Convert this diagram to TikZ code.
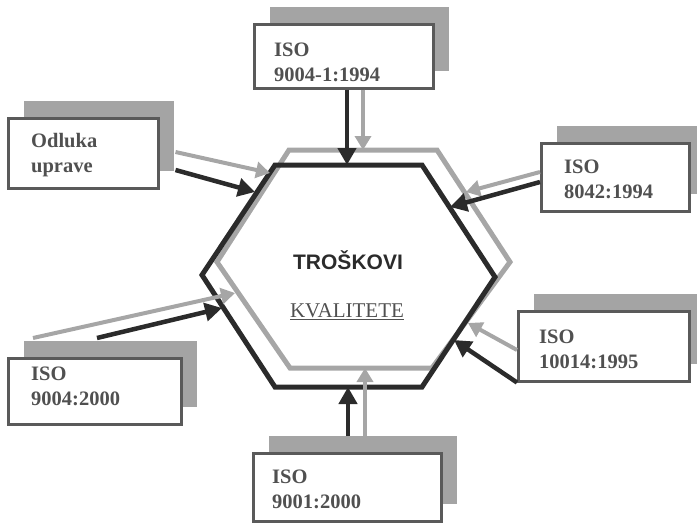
\documentclass[tikz,border=0pt]{standalone}
\usepackage{fontspec}
\setmainfont{Liberation Serif}
\newfontfamily\headfont{Liberation Sans}
\usetikzlibrary{arrows.meta,shadows,calc}
\definecolor{inkdark}{HTML}{2B2B2B}
\definecolor{inkgray}{HTML}{A6A6A6}
\definecolor{shadowgray}{HTML}{A4A4A4}
\definecolor{boxline}{HTML}{5A5A5A}
\definecolor{txt}{HTML}{505050}

\begin{document}
\begin{tikzpicture}[x=1pt,y=-1pt,
  isobox/.style={draw=boxline, line width=2.5pt, fill=white, inner sep=0pt,
    anchor=north west,
    drop shadow={shadow xshift=16pt, shadow yshift=17pt, fill=shadowgray, opacity=1}},
  lbl/.style={anchor=north west, inner sep=0pt, align=left, text=txt,
    font=\bfseries\fontsize{20.5}{25}\selectfont},
  darr/.style={draw=inkdark, line width=4.5pt, -{Triangle[length=17pt,width=18pt]}},
  garr/.style={draw=inkgray, line width=4pt, -{Triangle[length=14pt,width=16pt]}},
  hexdark/.style={draw=inkdark, line width=5pt, line join=miter},
  hexgray/.style={draw=inkgray, line width=5pt, line join=miter}]

\useasboundingbox (0,0) rectangle (697,525);

% ---- source boxes (white card with a shadow up and to the right)
\node[isobox, minimum width=179pt, minimum height=64pt] (b1) at (253,23) {};
\node[isobox, minimum width=150pt, minimum height=70pt] (b2) at (7,117) {};
\node[isobox, minimum width=148pt, minimum height=68pt] (b3) at (540,142) {};
\node[isobox, minimum width=173pt, minimum height=66pt] (b4) at (7,357) {};
\node[isobox, minimum width=171pt, minimum height=70pt] (b5) at (517,310) {};
\node[isobox, minimum width=188pt, minimum height=68pt] (b6) at (252,452) {};

\node[lbl] (l1) at (274,43)  {ISO\\9004-1:1994};
\node[lbl] (l2) at (31,133)  {Odluka\\uprave};
\node[lbl] (l3) at (564,160) {ISO\\8042:1994};
\node[lbl] (l4) at (31,367)  {ISO\\9004:2000};
\node[lbl] (l5) at (539,330) {ISO\\10014:1995};
\node[lbl] (l6) at (272,470) {ISO\\9001:2000};

% ---- the two hexagons
\draw[hexgray] (289,150) -- (437,150) -- (510,262) -- (432,368) -- (290,368) -- (217,262) -- cycle;
\draw[hexdark] (275,165) -- (422,165) -- (495,277) -- (422,387) -- (275,387) -- (202,275) -- cycle;

\node[text=inkdark, font=\headfont\bfseries\fontsize{21}{24}\selectfont] (title) at (348,260) {TROŠKOVI};
\node[text=txt, font=\fontsize{21}{24}\selectfont] (sub) at (347,312) {\underline{KVALITETE}};

% ---- arrow end points on the hexagon outlines
\coordinate (dTop) at (347,165);
\coordinate (gTop) at (363,150);
\coordinate (dUL)  at (255,192);
\coordinate (gUL)  at (270,173);
\coordinate (dUR)  at (450,207);
\coordinate (gUR)  at (466,192);
\coordinate (dLL)  at (222,308);
\coordinate (gLL)  at (235,293);
\coordinate (dLR)  at (454,340);
\coordinate (gLR)  at (468,323);
\coordinate (dBot) at (348,387);
\coordinate (gBot) at (365,368);

% ---- gray arrows
\draw[garr] (b1.south -| gTop) -- (gTop);
\draw[garr] ($(b2.north east)+(16,35)$) -- (gUL);
\draw[garr] ($(b3.north west)+(0,30)$) -- (gUR);
\draw[garr] ($(b4.north west)+(26,-19)$) -- (gLL);
\draw[garr] ($(b5.north west)+(0,40)$) -- (gLR);
\draw[garr] ($(b6.north -| gBot)+(0,-16)$) -- (gBot);

% ---- dark arrows
\draw[darr] (b1.south -| dTop) -- (dTop);
\draw[darr] ($(b2.north east)+(16,53)$) -- (dUL);
\draw[darr] ($(b3.north west)+(0,40)$) -- (dUR);
\draw[darr] ($(b4.north west)+(90,-19)$) -- (dLL);
\draw[darr] (b5.south west) -- (dLR);
\draw[darr] ($(b6.north -| dBot)+(0,-16)$) -- (dBot);

\end{tikzpicture}
\end{document}
